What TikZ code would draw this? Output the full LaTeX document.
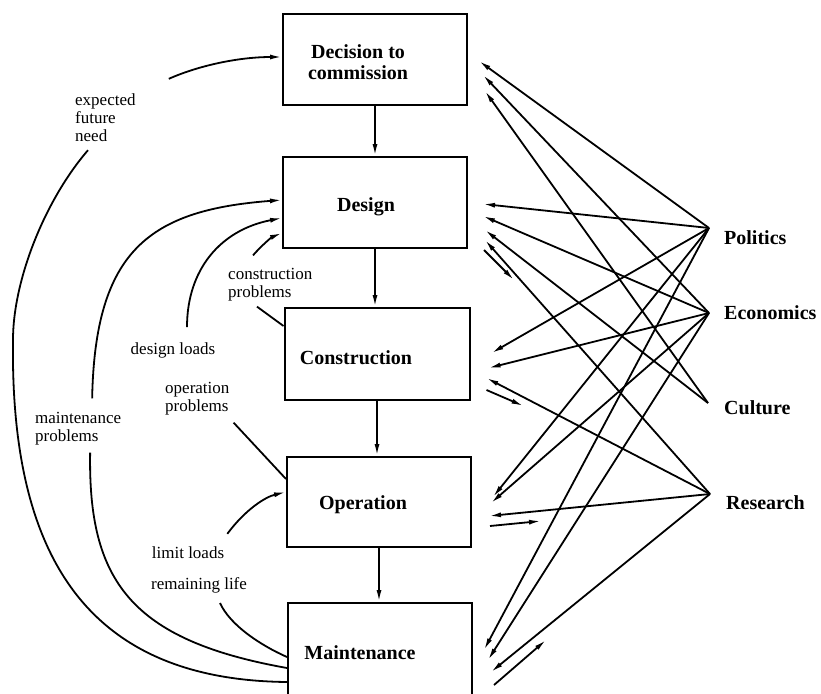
\documentclass[tikz,border=0pt]{standalone}
\usepackage{fontspec}
\setmainfont{Liberation Serif}
\usetikzlibrary{calc,positioning,arrows.meta}

\tikzset{
  stage/.style={draw, line width=2pt, minimum width=184pt, minimum height=91pt, inner sep=0pt},
  stagetext/.style={font=\fontsize{20}{21}\selectfont\bfseries, align=center},
  factor/.style={font=\fontsize{20}{21}\selectfont\bfseries, inner sep=0pt, anchor=west},
  note/.style={font=\fontsize{17}{18}\selectfont, inner sep=0pt, align=left},
  flow/.style={line width=1.8pt, -{Latex[length=12pt,width=5pt]}},
  lead/.style={line width=1.8pt}
}

\begin{document}
\begin{tikzpicture}[x=1pt, y=-1pt]
\useasboundingbox (0,0) rectangle (821,693);
% life cycle stages
\node[stage, label={[stagetext,xshift=-17pt,yshift=-3pt]center:Decision to\\commission}] (dec) at (375,59.5) {};
\node[stage, label={[stagetext,xshift=-9pt,yshift=-4pt]center:Design}] (des) at (375,202.5) {};
\node[stage, minimum width=185pt, minimum height=92pt, label={[stagetext,xshift=-21pt,yshift=-4pt]center:Construction}] (con) at (377,354) {};
\node[stage, minimum height=90pt, label={[stagetext,xshift=-16pt,yshift=-3pt]center:Operation}] (opr) at (379,502) {};
\node[stage, minimum height=100pt, label={[stagetext,xshift=-20pt]center:Maintenance}] (mnt) at (380,653) {};
\draw[flow] (dec.south) -- (dec.south |- des.north);
\draw[flow] (des.south) -- (des.south |- con.north);
\draw[flow] (con.south) -- (con.south |- opr.north);
\draw[flow] (opr.south) -- (opr.south |- mnt.north);

% outside influences
\node[factor] (poltxt) at (724,238) {Politics};
\node[factor] (ecotxt) at (724,313) {Economics};
\node[factor] (cultxt) at (724,408) {Culture};
\node[factor] (restxt) at (726,503) {Research};
\coordinate (pol) at ($(poltxt.west)+(-15,-10)$);
\coordinate (eco) at ($(ecotxt.west)+(-15,0)$);
\coordinate (cul) at ($(cultxt.west)+(-16,-5)$);
\coordinate (res) at ($(restxt.west)+(-16,-9)$);
\foreach \stg/\dx/\dy in {dec/11/1.5, des/15/1.5, con/21/-1, opr/21/-5, mnt/11/-3}
  \draw[flow] (pol) -- ($(\stg.east)+(\dx,\dy)$);
\foreach \stg/\dx/\dy in {dec/15/15.5, des/15/13.5, con/18/14, opr/19/1, mnt/15/7}
  \draw[flow] (eco) -- ($(\stg.east)+(\dx,\dy)$);
\foreach \stg/\dx/\dy in {dec/17/31.5, des/17/27.5}
  \draw[flow] (cul) -- ($(\stg.east)+(\dx,\dy)$);
\foreach \stg/\dx/\dy in {des/17/37.5, con/16/24, opr/17/14, mnt/18/19}
  \draw[flow] (res) -- ($(\stg.east)+(\dx,\dy)$);
% feedback to research
\foreach \stg/\ax/\ay/\bx/\by in {des/16/47.5/46/77.5, con/16/36/53/52, opr/18/24/69/19, mnt/21/32/73/-13}
  \draw[flow] ($(\stg.east)+(\ax,\ay)$) -- ($(\stg.east)+(\bx,\by)$);

% feedback loops on the left
\node[note, anchor=west] (efn) at (75,118) {expected\\future\\need};
\node[note, anchor=west] (mp) at (35,429) {maintenance\\problems};
\node[note] (dl) at (173,350) {design loads};
\node[note, anchor=west] (cp) at (228,285) {construction\\problems};
\node[note, anchor=west] (op) at (165,399) {operation\\problems};
\node[note] (ll) at (188,553) {limit loads};
\node[note] (rl) at (199,585) {remaining life};

\draw[lead] ($(mnt.west)+(0,29)$) .. controls (90,680) and (10,560) .. (13,340)
  .. controls (13,280) and (45,200) .. ($(efn.south west)+(13,8)$);
\draw[flow] ($(efn.north east)+(33,-15)$) .. controls (200,65) and (240,57) .. ($(dec.west)+(0,-2.5)$);
\draw[lead] ($(mnt.west)+(0,15)$) .. controls (130,640) and (88,580) .. ($(mp.south)+(12,7)$);
\draw[flow] ($(mp.north)+(14,-14)$) .. controls (95,250) and (150,210) .. ($(des.west)+(0,-2.5)$);
\draw[flow] ($(dl.north)+(14,-15)$) .. controls (187,270) and (220,230) .. ($(des.west)+(0,15.5)$);
\draw[flow] ($(cp.north west)+(25,-13)$) .. controls (262,245) and (272,237) .. ($(des.west)+(0,30.5)$);
\draw[lead] ($(cp.south west)+(29,5)$) -- ($(con.north west)+(0,19)$);
\draw[lead] ($(op.south east)+(4,7)$) -- ($(opr.north west)+(0,23)$);
\draw[flow] ($(ll.north east)+(3,-13)$) .. controls (245,510) and (265,497) .. ($(opr.west)+(0,-10)$);
\draw[lead] ($(rl.south)+(21,10)$) .. controls (230,625) and (260,645) .. ($(mnt.west)+(0,4)$);
\end{tikzpicture}
\end{document}
